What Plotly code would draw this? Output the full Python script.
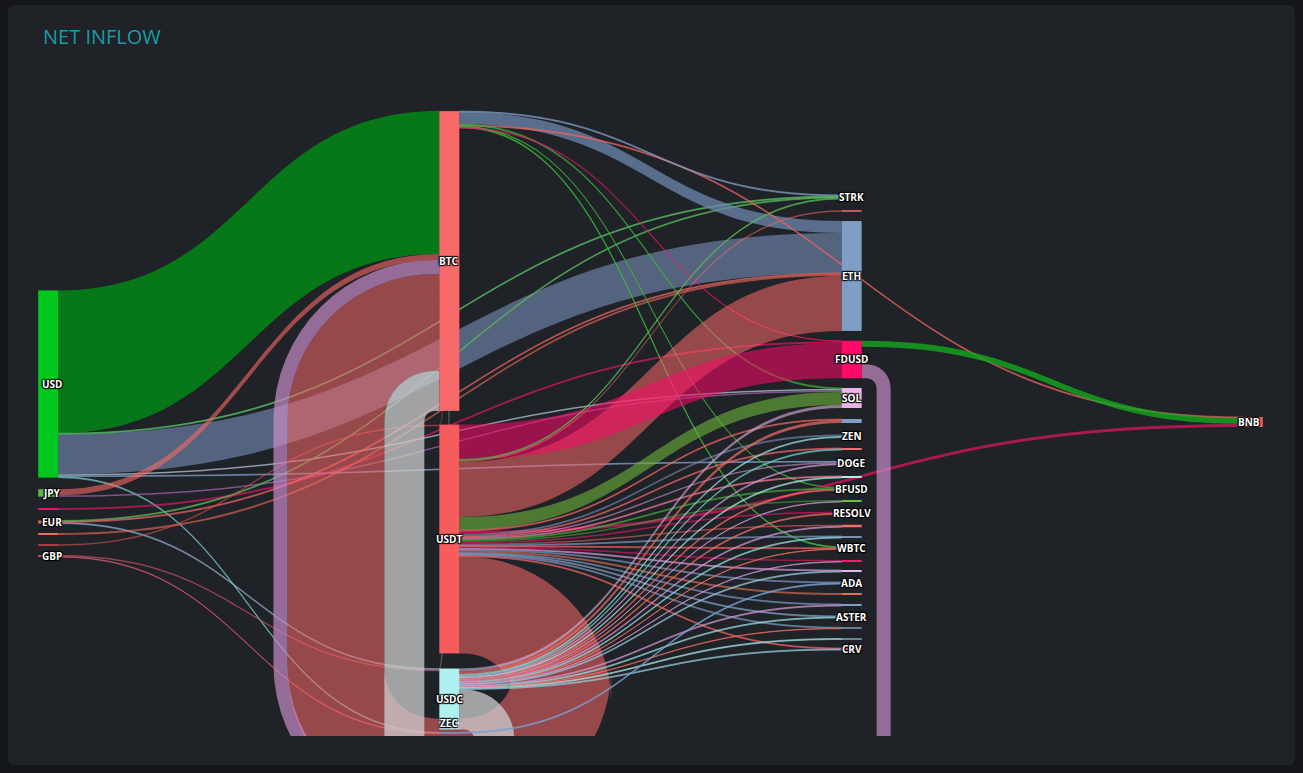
import plotly.graph_objects as go

# ---------------- data ----------------
node_keys = ["BTC", "USD", "JPY", "F1", "EUR", "F2", "F3", "GBP",
             "USDT", "USDC", "ZEC",
             "STRK", "A1", "ETH", "FDUSD", "SOL", "A2", "ZEN", "A3", "DOGE", "A4",
             "BFUSD", "A5", "RESOLV", "A6", "A7", "WBTC", "A8", "A9", "ADA", "A10",
             "A11", "ASTER", "A12", "A13", "CRV",
             "BNB"]
node_labels = ["BTC", "USD", "JPY", "", "EUR", "", "", "GBP",
               "USDT", "USDC", "ZEC",
               "STRK", "", "ETH", "FDUSD", "SOL", "", "ZEN", "", "DOGE", "",
               "BFUSD", "", "RESOLV", "", "", "WBTC", "", "", "ADA", "",
               "", "ASTER", "", "", "CRV",
               "BNB"]

link_source = [
    "USD", "USD", "USD", "USD", "USD", "USD",
    "JPY", "JPY", "F1", "EUR", "EUR", "EUR", "F2", "F3", "GBP", "GBP",
    "BTC", "BTC", "BTC", "BTC", "BTC", "BTC", "BTC", "BTC", "BTC",
    "USDT", "USDT", "USDT", "USDT", "USDT", "USDT", "USDT",
    "USDT", "USDT", "USDT", "USDT", "USDT", "USDT", "USDT", "USDT", "USDT", "USDT",
    "USDT", "USDT", "USDT", "USDT", "USDT", "USDT", "USDT", "USDT", "USDT",
    "USDC", "USDC", "USDC", "USDC", "USDC", "USDC", "USDC", "USDC", "USDC", "USDC",
    "USDC", "USDC", "USDC", "USDC", "USDC", "USDC", "USDC", "USDC", "USDC", "USDC",
    "ZEC", "FDUSD", "FDUSD",
]
link_target = [
    "BTC", "ETH", "STRK", "SOL", "ZEC", "DOGE",
    "BTC", "SOL", "FDUSD", "USDC", "STRK", "ETH", "ETH", "USDT", "USDC", "ZEC",
    "ETH", "BNB", "WBTC", "SOL", "STRK", "BFUSD", "FDUSD", "USDT", "USDC",
    "BTC", "ETH", "FDUSD", "SOL", "STRK", "A1", "BNB",
    "A2", "ZEN", "A3", "DOGE", "A4", "BFUSD", "A5", "RESOLV", "A6", "A7",
    "WBTC", "A8", "A9", "ADA", "A10", "A11", "ASTER", "A12", "CRV",
    "BTC", "SOL", "A2", "ZEN", "A3", "DOGE", "A4", "BFUSD", "A5", "RESOLV",
    "A6", "A7", "WBTC", "A8", "A9", "A11", "ASTER", "A12", "A13", "CRV",
    "ADA", "BTC", "BNB",
]
link_value = [
    143, 40, 1, 1.5, 1, 0.8,
    6, 1.5, 2, 1, 1, 1, 2, 1.5, 1.5, 0.5,
    12, 1, 1, 1, 1, 0.5, 0.5, 0.2, 0.2,
    97, 55, 35, 13, 1, 1.5, 3,
    1, 2, 1, 1.5, 1, 1, 1.5, 1.5, 1.5, 1,
    1, 1.5, 1, 1, 2, 1, 1, 1, 1,
    40, 3, 3, 1, 1, 1, 1, 1, 0.5, 1,
    1, 1, 0.5, 0.5, 1, 1, 1, 0.5, 1, 1,
    1, 14, 6,
]

# ---------------- styles ----------------
node_colors = {
    "BTC": "#f86a6a", "USD": "#00c81e", "JPY": "#5cb840", "F1": "#f0106a",
    "EUR": "#e86a50", "F2": "#e8705a", "F3": "#d84a4a", "GBP": "#d05070",
    "USDT": "#f65c5c", "USDC": "#aef0f0", "ZEC": "#7a9ad0",
    "STRK": "#6abf40", "A1": "#f07070", "ETH": "#809dc6", "FDUSD": "#ff0a6a",
    "SOL": "#ebb5ec", "A2": "#809dc6", "ZEN": "#8090b0", "A3": "#f07070",
    "DOGE": "#e8b4e8", "A4": "#aef0f0", "BFUSD": "#6abf40", "A5": "#6abf40",
    "RESOLV": "#ff0a6a", "A6": "#f07070", "A7": "#8090b0", "WBTC": "#6abf40",
    "A8": "#ff1a6a", "A9": "#e8b4e8", "ADA": "#809dc6", "A10": "#e87050",
    "A11": "#809dc6", "ASTER": "#e8b4e8", "A12": "#8898b8", "A13": "#aef0f0",
    "CRV": "#f07070", "BNB": "#f06060",
}
RED = "rgba(248,104,104,0.55)"
SLATE = "rgba(120,145,185,0.6)"
link_colors = [
    "rgba(0,150,20,0.75)", SLATE, "rgba(90,200,110,0.6)", "rgba(200,225,235,0.65)",
    "rgba(120,200,200,0.6)", "rgba(130,160,200,0.6)",
    "rgba(248,104,104,0.6)", "rgba(180,110,190,0.65)", "rgba(255,20,110,0.6)",
    "rgba(140,170,200,0.6)", "rgba(90,190,90,0.6)", RED, "rgba(240,110,90,0.6)",
    "rgba(220,80,80,0.6)", "rgba(220,90,110,0.6)", "rgba(220,90,110,0.6)",
    "rgba(110,135,175,0.75)", "rgba(240,100,100,0.6)", "rgba(60,180,60,0.7)",
    "rgba(60,180,60,0.6)", "rgba(130,160,200,0.6)", "rgba(60,180,60,0.6)",
    "rgba(255,20,110,0.5)", "rgba(248,104,104,0.2)", "rgba(174,240,240,0.2)",
    RED, RED, "rgba(255,10,106,0.55)", "rgba(110,180,60,0.6)",
    "rgba(90,190,90,0.6)", RED, "rgba(230,20,100,0.7)",
    RED, SLATE, RED, "rgba(210,150,210,0.6)", "rgba(240,120,150,0.6)",
    "rgba(60,170,60,0.6)", "rgba(60,170,60,0.6)", "rgba(255,20,110,0.6)", RED, SLATE,
    RED, "rgba(255,20,110,0.6)", "rgba(210,150,210,0.6)", SLATE,
    "rgba(240,120,90,0.6)", SLATE, "rgba(130,160,200,0.6)", SLATE, RED,
    "rgba(205,205,205,0.75)", "rgba(220,180,220,0.6)", "rgba(240,110,100,0.7)",
    "rgba(150,220,220,0.6)", "rgba(120,200,200,0.6)", "rgba(210,150,210,0.6)",
    "rgba(170,230,230,0.6)", "rgba(240,110,100,0.6)", "rgba(210,150,210,0.6)",
    "rgba(240,110,100,0.6)", "rgba(210,150,210,0.6)", "rgba(150,220,220,0.6)",
    "rgba(240,110,100,0.6)", "rgba(210,150,210,0.6)", "rgba(150,200,220,0.6)",
    "rgba(210,150,210,0.6)", "rgba(150,220,220,0.6)", "rgba(240,110,100,0.6)",
    "rgba(170,230,230,0.6)", "rgba(150,200,220,0.6)",
    "rgba(120,160,210,0.7)", "rgba(200,140,200,0.7)", "rgba(20,170,30,0.8)",
]

# ---------------- layout (positions) ----------------
W, H = 1303, 773
ML, MR, MT, MB = 47, 49, 8, 0
PW, PH = W - ML - MR, H - MT - MB
NODE_PAD = 11.8
col_x = [0.001, 1 / 3, 2 / 3, 0.999]
label_xshift = [4, 0, 0, -4]
LABEL_MAX_Y = 723
node_col = {k: 2 for k in node_keys}
for k in ["USD", "JPY", "F1", "EUR", "F2", "F3", "GBP"]:
    node_col[k] = 0
for k in ["BTC", "USDT", "USDC", "ZEC"]:
    node_col[k] = 1
node_col["BNB"] = 3
node_center_px = {
    "BTC": 261, "USD": 384, "JPY": 493, "F1": 509, "EUR": 522, "F2": 534,
    "F3": 545, "GBP": 556, "USDT": 539, "USDC": 699, "ZEC": 733,
    "STRK": 197, "A1": 211, "ETH": 276, "FDUSD": 359.5, "SOL": 398, "A2": 421,
    "ZEN": 436, "A3": 449, "DOGE": 463, "A4": 477, "BFUSD": 489, "A5": 501,
    "RESOLV": 513, "A6": 526, "A7": 537, "WBTC": 548, "A8": 561, "A9": 571,
    "ADA": 583, "A10": 594, "A11": 605, "ASTER": 617, "A12": 628, "A13": 639,
    "CRV": 649, "BNB": 422,
}
idx = {k: i for i, k in enumerate(node_keys)}
node_xf = [col_x[node_col[k]] for k in node_keys]
node_yf = [(node_center_px[k] - MT) / PH for k in node_keys]

fig = go.Figure(go.Sankey(
    arrangement="fixed",
    domain=dict(x=[0, 1], y=[0, 1]),
    node=dict(
        label=["" for _ in node_keys],
        customdata=node_labels,
        hovertemplate="%{customdata}<extra></extra>",
        color=[node_colors[k] for k in node_keys],
        x=node_xf,
        y=node_yf,
        pad=NODE_PAD,
        thickness=20,
        line=dict(width=0),
    ),
    link=dict(
        source=[idx[s] for s in link_source],
        target=[idx[t] for t in link_target],
        value=link_value,
        color=link_colors,
        line=dict(width=0),
    ),
))

# node labels centred on their nodes (same positions as the nodes)
annotations = []
for k, lab, xf, yf in zip(node_keys, node_labels, node_xf, node_yf):
    if lab:
        ycen = node_center_px[k]
        annotations.append(dict(
            text=lab, x=xf, y=1 - yf, xref="paper", yref="paper",
            xanchor="center", yanchor="middle", showarrow=False,
            xshift=label_xshift[node_col[k]],
            yshift=max(0, ycen - LABEL_MAX_Y),
            font=dict(family="Open Sans", size=10, color="white", weight="bold",
                      shadow="1px 1px 1px #000, -1px -1px 1px #000, 1px -1px 1px #000, -1px 1px 1px #000"),
        ))


def px2paper(x, y):
    return (x - ML) / PW, (H - MB - y) / PH


def rounded_rect(x0, y0, x1, y1, r):
    def P(x, y):
        a, b = px2paper(x, y)
        return f"{a:.5f},{b:.5f}"
    return (f"M {P(x0 + r, y0)} L {P(x1 - r, y0)} Q {P(x1, y0)} {P(x1, y0 + r)} "
            f"L {P(x1, y1 - r)} Q {P(x1, y1)} {P(x1 - r, y1)} L {P(x0 + r, y1)} "
            f"Q {P(x0, y1)} {P(x0, y1 - r)} L {P(x0, y0 + r)} Q {P(x0, y0)} {P(x0 + r, y0)} Z")


CARD = "#1f2226"
OUTER = "#141619"
shapes = [
    dict(type="path", xref="paper", yref="paper", layer="below",
         path=rounded_rect(8, 5, 1295, 765, 8), fillcolor=CARD, line=dict(width=0)),
]
a0, b0 = px2paper(0, 765)
a1, b1 = px2paper(W, H + 50)
shapes.append(dict(type="rect", xref="paper", yref="paper", layer="above",
                   x0=a0, x1=a1, y0=b1, y1=b0, fillcolor=OUTER, line=dict(width=0)))
shapes.append(dict(type="path", xref="paper", yref="paper", layer="above",
                   path=rounded_rect(8, 736, 1295, 765, 8), fillcolor=CARD, line=dict(width=0)))

fig.update_layout(
    width=W, height=H,
    margin=dict(l=ML, r=MR, t=MT, b=MB),
    paper_bgcolor=OUTER,
    plot_bgcolor=CARD,
    shapes=shapes,
    annotations=annotations,
    title=dict(text="NET INFLOW", x=43 / W, xanchor="left", y=1 - 37 / H, yanchor="middle",
               font=dict(family="Open Sans", size=20, color="#1c9ba8")),
)
fig.write_html("out.html", config={"displayModeBar": False},
               post_script="document.body.style.margin='0';document.body.style.background='#141619';")
